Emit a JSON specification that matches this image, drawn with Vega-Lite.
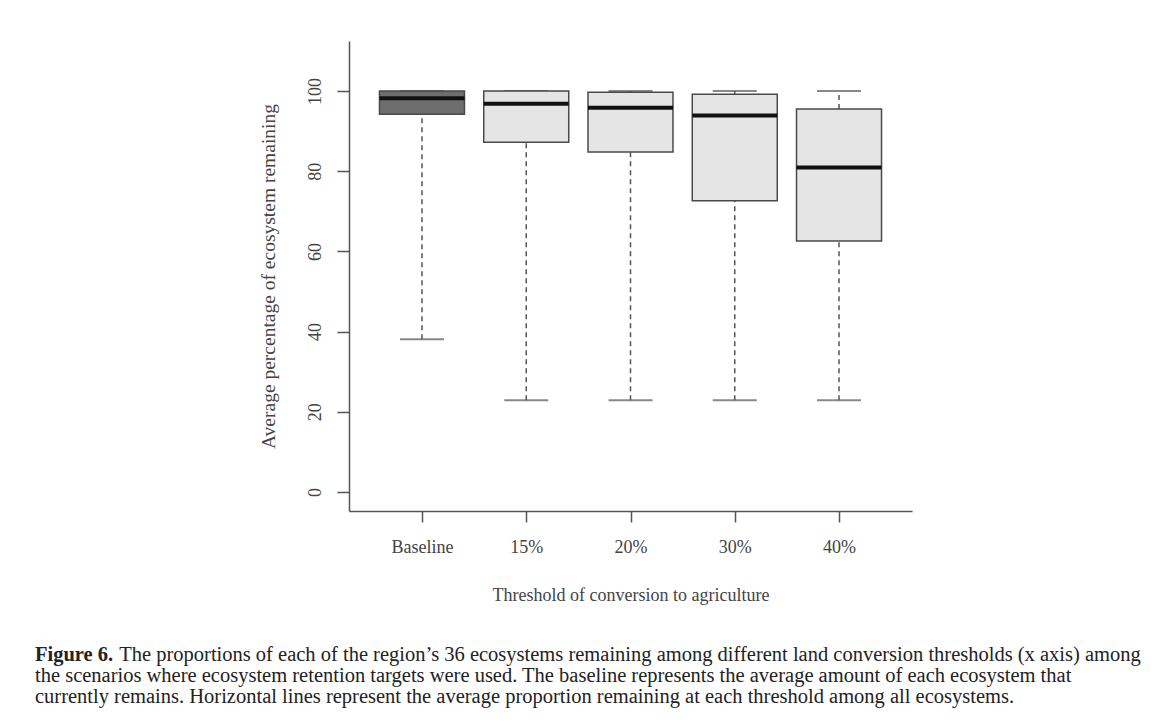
{
  "$schema": "https://vega.github.io/schema/vega-lite/v6.json",
  "autosize": {"type": "none"},
  "width": 563,
  "height": 470,
  "padding": {"left": 349, "top": 41, "right": 242, "bottom": 213},
  "background": "white",
  "config": {
    "view": {"stroke": null},
    "font": "Liberation Serif"
  },
  "title": {
    "text": "Figure 6.",
    "subtitle": [
      "\u2800\u2800\u2800\u2800\u2800 \u2009The proportions of each of the region’s 36 ecosystems remaining among different land conversion thresholds (x axis) among",
      "the scenarios where ecosystem retention targets were used. The baseline represents the average amount of each ecosystem that",
      "currently remains. Horizontal lines represent the average proportion remaining at each threshold among all ecosystems."
    ],
    "orient": "bottom",
    "anchor": "start",
    "frame": "group",
    "dx": -314,
    "offset": 41,
    "font": "Liberation Serif",
    "fontSize": 20.5,
    "fontWeight": "bold",
    "color": "#222222",
    "lineHeight": 21,
    "subtitleFont": "Liberation Serif",
    "subtitleFontSize": 20.5,
    "subtitleFontWeight": "normal",
    "subtitleColor": "#222222",
    "subtitleLineHeight": 21,
    "subtitlePadding": -21
  },
  "data": {
    "values": [
      {"threshold": "Baseline", "lower": 38.1, "q1": 94.2, "median": 98.2, "q3": 100, "upper": 100},
      {"threshold": "15%", "lower": 22.9, "q1": 87.2, "median": 96.8, "q3": 100, "upper": 100},
      {"threshold": "20%", "lower": 22.9, "q1": 84.8, "median": 95.8, "q3": 99.7, "upper": 100},
      {"threshold": "30%", "lower": 22.9, "q1": 72.6, "median": 93.9, "q3": 99.2, "upper": 100},
      {"threshold": "40%", "lower": 22.9, "q1": 62.6, "median": 80.9, "q3": 95.5, "upper": 100}
    ]
  },
  "encoding": {
    "x": {
      "field": "threshold",
      "type": "nominal",
      "sort": ["Baseline", "15%", "20%", "30%", "40%"],
      "scale": {"type": "point", "padding": 0.7},
      "axis": {
        "title": "Threshold of conversion to agriculture",
        "labelAngle": 0,
        "labelFont": "Liberation Serif",
        "labelFontSize": 18,
        "labelColor": "#444444",
        "labelPadding": 16,
        "tickSize": 11,
        "tickColor": "#555555",
        "tickWidth": 1.5,
        "domainColor": "#555555",
        "domainWidth": 1.5,
        "titleFont": "Liberation Serif",
        "titleFontSize": 18,
        "titleFontWeight": "normal",
        "titleColor": "#444444",
        "titlePadding": 30
      }
    }
  },
  "layer": [
    {
      "mark": {"type": "rule", "color": "#555555", "strokeWidth": 1.5, "strokeDash": [5, 4]},
      "encoding": {
        "y": {
          "field": "lower",
          "type": "quantitative",
          "scale": {"domain": [-4.74, 112.47], "nice": false, "zero": false},
          "axis": {
            "title": "Average percentage of ecosystem remaining",
            "values": [0, 20, 40, 60, 80, 100],
            "grid": false,
            "labelAngle": -90,
            "labelAlign": "center",
            "labelBaseline": "bottom",
            "labelFont": "Liberation Serif",
            "labelFontSize": 18,
            "labelColor": "#444444",
            "labelPadding": 13,
            "tickSize": 12,
            "tickColor": "#555555",
            "tickWidth": 1.5,
            "domainColor": "#555555",
            "domainWidth": 1.5,
            "titleFont": "Liberation Serif",
            "titleFontSize": 19.5,
            "titleFontWeight": "normal",
            "titleColor": "#444444",
            "titlePadding": 28
          }
        },
        "y2": {"field": "q1"}
      }
    },
    {
      "mark": {"type": "rule", "color": "#555555", "strokeWidth": 1.5, "strokeDash": [5, 4]},
      "encoding": {
        "y": {"field": "q3", "type": "quantitative"},
        "y2": {"field": "upper"}
      }
    },
    {
      "mark": {"type": "tick", "color": "#555555", "size": 44, "thickness": 2},
      "encoding": {"y": {"field": "lower", "type": "quantitative"}}
    },
    {
      "mark": {"type": "tick", "color": "#555555", "size": 44, "thickness": 2},
      "encoding": {"y": {"field": "upper", "type": "quantitative"}}
    },
    {
      "mark": {"type": "bar", "size": 85, "stroke": "#4a4a4a", "strokeWidth": 1.5},
      "encoding": {
        "y": {"field": "q1", "type": "quantitative"},
        "y2": {"field": "q3"},
        "fill": {
          "condition": {"test": "datum.threshold === 'Baseline'", "value": "#6e6e6e"},
          "value": "#e5e5e6"
        }
      }
    },
    {
      "mark": {"type": "tick", "color": "#111111", "size": 85, "thickness": 4, "opacity": 1},
      "encoding": {"y": {"field": "median", "type": "quantitative"}}
    }
  ]
}
